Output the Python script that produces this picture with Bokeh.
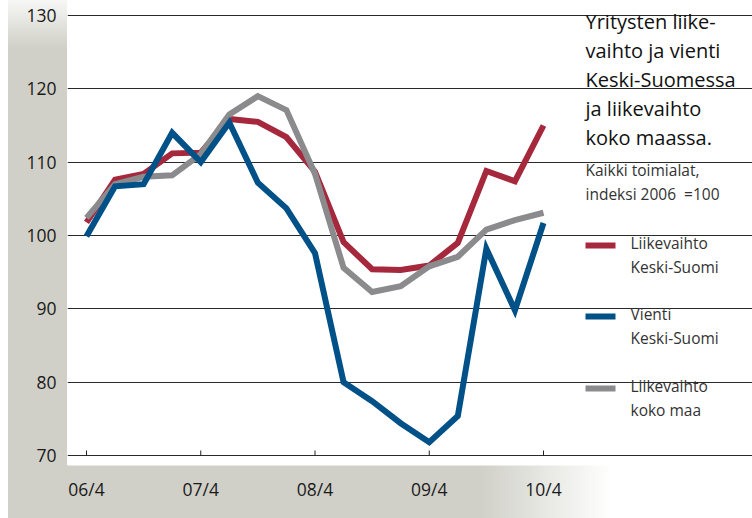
from bokeh.plotting import figure
from bokeh.models import FixedTicker, Range1d
from bokeh.embed import file_html
from bokeh.resources import INLINE
from bokeh.core.properties import value

# ---------------- data ----------------
quarters = ["06/4", "07/1", "07/2", "07/3", "07/4", "08/1", "08/2", "08/3", "08/4",
            "09/1", "09/2", "09/3", "09/4", "10/1", "10/2", "10/3", "10/4"]
liikevaihto_ks = [101.8, 107.6, 108.4, 111.2, 111.3, 115.9, 115.5, 113.4, 108.7,
                  99.1, 95.4, 95.3, 95.9, 99.0, 108.8, 107.4, 115.0]
vienti_ks = [99.9, 106.7, 107.0, 114.0, 110.0, 115.4, 107.2, 103.7, 97.6,
             80.0, 77.4, 74.4, 71.8, 75.4, 98.2, 89.8, 101.7]
liikevaihto_maa = [102.4, 107.0, 108.0, 108.2, 111.1, 116.5, 119.0, 117.1, 108.4,
                   95.6, 92.3, 93.1, 95.8, 97.1, 100.8, 102.1, 103.1]
y_ticks = [70, 80, 90, 100, 110, 120, 130]
x_tick_idx = [0, 4, 8, 12, 16]

title_lines = ["Yritysten liike-", "vaihto ja vienti", "Keski-Suomessa",
               "ja liikevaihto", "koko maassa."]
subtitle_lines = ["Kaikki toimialat,", "indeksi 2006\u00a0\u00a0=100"]
legend_labels = [["Liikevaihto", "Keski-Suomi"], ["Vienti", "Keski-Suomi"],
                 ["Liikevaihto", "koko maa"]]

RED = "#a6283c"
BLUE = "#005188"
GREY = "#8b8b8d"
BAND = "#d0d0c8"
FONT = "Open Sans"

# ---------------- layout ----------------
W, H = 752, 518
LEFT, BOTTOM = 67, 53
PXQ = 28.5625          # px per quarter
PXU = 440.0 / 60.0     # px per index unit


def dx(px):  # page x -> data x
    return (px - 86) / PXQ


def dy(py):  # page y -> data y
    return 70 + (455 - py) / PXU


p = figure(width=W, height=H, output_backend="svg", toolbar_location=None,
           x_range=Range1d(dx(LEFT), dx(W)), y_range=Range1d(dy(H - BOTTOM), dy(0)),
           min_border_left=LEFT, min_border_bottom=BOTTOM,
           min_border_top=0, min_border_right=0)
p.outline_line_color = None
p.background_fill_color = "white"
p.border_fill_color = None
p.styles = {
    "background": (
        f"linear-gradient(to bottom, #f7f7f5 0px, {BAND} 48px) 8px 0px / 59px {H}px no-repeat, "
        f"linear-gradient(to right, {BAND} 0px, {BAND} 472px, #ffffff 604px) 8px {H - BOTTOM}px / 604px {BOTTOM}px no-repeat, "
        "#ffffff"
    )
}

# axes
p.xaxis.ticker = FixedTicker(ticks=x_tick_idx)
p.xaxis.major_label_overrides = {i: quarters[i] for i in x_tick_idx}
p.xaxis.axis_line_color = None
p.xaxis.major_tick_line_color = None
p.xaxis.minor_tick_line_color = None
p.xaxis.major_tick_out = 0
p.xaxis.major_label_standoff = 11
p.xaxis.major_label_text_font = FONT
p.xaxis.major_label_text_font_size = "17.5px"
p.xaxis.major_label_text_color = "#1a1a1a"

p.yaxis.ticker = FixedTicker(ticks=y_ticks)
p.yaxis.axis_line_color = None
p.yaxis.major_tick_line_color = None
p.yaxis.minor_tick_line_color = None
p.yaxis.major_tick_out = 0
p.yaxis.major_label_standoff = 11
p.yaxis.major_label_text_font = FONT
p.yaxis.major_label_text_font_size = "17.5px"
p.yaxis.major_label_text_color = "#1a1a1a"

p.xgrid.visible = False
p.ygrid.ticker = FixedTicker(ticks=y_ticks)
p.ygrid.grid_line_color = "#2a2a2a"
p.ygrid.grid_line_width = 1
p.ygrid.bounds = (dx(77), dx(549))

# small tick marks on the base line
p.segment(x0=x_tick_idx, y0=[y_ticks[0]] * len(x_tick_idx),
          x1=x_tick_idx, y1=[y_ticks[0] + 5 / PXU] * len(x_tick_idx),
          line_color="#222222", line_width=1)

xs = list(range(len(quarters)))
p.line(xs, liikevaihto_ks, line_color=RED, line_width=6, line_join="miter")
p.line(xs, liikevaihto_maa, line_color=GREY, line_width=6, line_join="miter")
p.line(xs, vienti_ks, line_color=BLUE, line_width=6, line_join="miter")

# title, subtitle
title_y = [21, 50, 79, 108, 137]
p.text(x=[dx(585)] * len(title_lines), y=[dy(v) for v in title_y], text=title_lines,
       text_font=value(FONT), text_font_size="20px", text_color="#111111",
       text_baseline="middle", text_align="left")
sub_y = [169, 193]
p.text(x=[dx(585)] * 2, y=[dy(v) for v in sub_y], text=subtitle_lines,
       text_font=value(FONT), text_font_size="15.5px", text_color="#333333",
       text_baseline="middle", text_align="left")

# legend
sw_y = [245, 316, 388]
for (lab, yy, col) in zip(legend_labels, sw_y, [RED, BLUE, GREY]):
    p.segment(x0=[dx(585)], y0=[dy(yy)], x1=[dx(615)], y1=[dy(yy)],
              line_color=col, line_width=6)
    p.text(x=[dx(630)] * 2, y=[dy(yy - 3), dy(yy + 21)], text=lab,
           text_font=value(FONT), text_font_size="15.5px", text_color="#333333",
           text_baseline="middle", text_align="left")

open("out.html", "w").write(file_html(p, INLINE))
